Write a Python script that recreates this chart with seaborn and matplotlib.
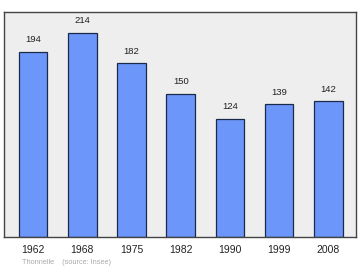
import matplotlib
matplotlib.use("Agg")
import matplotlib.pyplot as plt
import seaborn as sns
import pandas as pd

years = ["1962", "1968", "1975", "1982", "1990", "1999", "2008"]
population = [194, 214, 182, 150, 124, 139, 142]

sns.set_theme(style="white")
plt.rcParams['font.family'] = ['Liberation Sans', 'DejaVu Sans']

df = pd.DataFrame({"year": years, "pop": population})

fig = plt.figure(figsize=(3.6, 2.7), dpi=100)
ax = fig.add_axes([4/360, 1 - 236.5/270, 352/360, 224.5/270])
ax.set_facecolor("#eeeeee")

sns.barplot(data=df, x="year", y="pop", color="#6d96fb", saturation=1,
            width=0.58, edgecolor="#1a2a4a", linewidth=0.9, ax=ax)

for i, v in enumerate(population):
    ax.text(i, v + 8, str(v), ha="center", va="bottom", fontsize=6.8, color="#222222")

ax.set_xlim(-0.59, 6.56)
ax.set_ylim(0, 236)
ax.set_yticks([])
ax.set_xlabel("")
ax.set_ylabel("")
ax.tick_params(axis="x", length=0, pad=6, labelsize=7.5, labelcolor="#222222")
for s in ax.spines.values():
    s.set_color("#444444")
    s.set_linewidth(1.0)

fig.text(22/360, 1 - 263/270, "Thonnelle    (source: Insee)", fontsize=5.3, color="#aaaaaa",
         ha="left", va="center")

fig.savefig("out.png", dpi=100)
